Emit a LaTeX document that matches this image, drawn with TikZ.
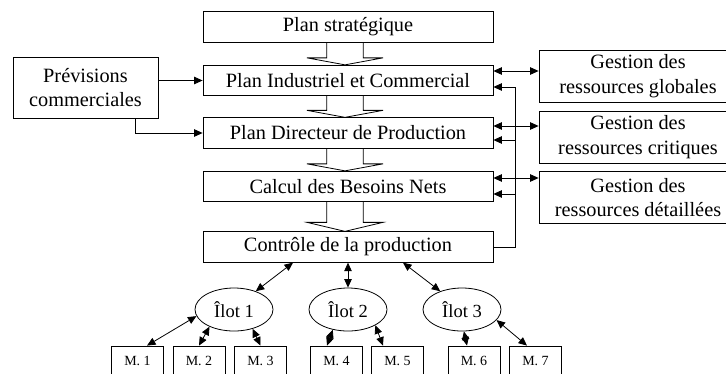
\documentclass[tikz,border=0pt]{standalone}
\usepackage{fontspec}
\setmainfont{Liberation Serif}
\usetikzlibrary{arrows.meta,calc,shapes.geometric}
\newcommand{\blockarrow}[3]{%
  \draw let \p1=(#1.south), \p2=(#2.north) in
    (\x1-21.3pt,\y1) -- (\x1-21.3pt,\y2+#3pt) -- (\x1-41pt,\y2+#3pt) -- (\x1-3pt,\y2)
    -- (\x1+35pt,\y2+#3pt) -- (\x1+15.3pt,\y2+#3pt) -- (\x1+15.3pt,\y1);}
\begin{document}
\begin{tikzpicture}[x=1pt,y=-1pt,line width=0.8pt,
  mainbox/.style={draw,minimum width=290pt,minimum height=30.5pt,inner sep=0pt,
    font=\fontsize{20.3}{24}\selectfont},
  sidebox/.style={draw,minimum width=198pt,minimum height=52pt,inner sep=0pt,align=center,
    font=\fontsize{20.3}{24.5}\selectfont},
  prevbox/.style={draw,minimum width=145pt,minimum height=61pt,inner sep=0pt,align=center,
    font=\fontsize{20.3}{24}\selectfont},
  ilot/.style={ellipse,draw,minimum width=78pt,minimum height=43pt,inner sep=0pt,
    font=\fontsize{18.5}{20}\selectfont},
  mach/.style={draw,minimum width=52pt,minimum height=30pt,inner sep=0pt,
    font=\fontsize{14}{15}\selectfont},
  sarr/.style={-{Triangle[length=8.5pt,width=7.5pt]}},
  dblarr/.style={{Triangle[length=8.5pt,width=7.5pt]}-{Triangle[length=8.5pt,width=7.5pt]}}
]
\useasboundingbox (0,0) rectangle (726,373);
\clip (0,0) rectangle (726,373);

% main column
\node[mainbox] (strat) at (348,27) {Plan stratégique};
\node[mainbox] (pic) at (348,80.5) {Plan Industriel et Commercial};
\node[mainbox] (pdp) at (348,133) {Plan Directeur de Production};
\node[mainbox] (cbn) at (348,186.5) {Calcul des Besoins Nets};
\node[mainbox] (cp) at (348,247) {Contrôle de la production};

% left
\node[prevbox] (prev) at (85.5,87.5) {Prévisions\\commerciales};

% right
\node[sidebox] (g1) at (638,76) {Gestion des\\ressources globales};
\node[sidebox] (g2) at (638,137) {Gestion des\\ressources critiques};
\node[sidebox] (g3) at (638,197.5) {Gestion des\\ressources détaillées};

% ilots
\node[ilot] (i1) at (234,309.5) {Îlot 1};
\node[ilot] (i2) at (348,309.5) {Îlot 2};
\node[ilot] (i3) at (462,309.5) {Îlot 3};

% machines
\node[mach] (m1) at (137.5,361) {M. 1};
\node[mach] (m2) at (199,361) {M. 2};
\node[mach] (m3) at (260.5,361) {M. 3};
\node[mach] (m4) at (336.5,361) {M. 4};
\node[mach] (m5) at (397.5,361) {M. 5};
\node[mach] (m6) at (474,361) {M. 6};
\node[mach] (m7) at (535.5,361) {M. 7};

% block arrows
\blockarrow{strat}{pic}{7}
\blockarrow{pic}{pdp}{7}
\blockarrow{pdp}{cbn}{7}
\blockarrow{cbn}{cp}{9}

% previsions arrows
\draw[sarr] (prev.east |- pic.west) -- (pic.west);
\draw[sarr] ($(prev.south)+(49.5,0)$) |- (pdp.west);

% gestion double arrows
\draw[dblarr] ($(pic.east)+(0,-9.5)$) coordinate (a1) -- (a1 -| g1.west);
\draw[dblarr] ($(pdp.east)+(0,-7)$) coordinate (a2) -- (a2 -| g2.west);
\draw[dblarr] ($(cbn.east)+(0,-8.5)$) coordinate (a3) -- (a3 -| g3.west);

% feedback
\draw[sarr] (cp.east) -| ($(pic.east)+(22,6.5)$) -- ($(pic.east)+(0,6.5)$);
\draw[sarr] ($(pdp.east)+(22,7)$) -- ($(pdp.east)+(0,7)$);
\draw[sarr] ($(cbn.east)+(22,7.5)$) -- ($(cbn.east)+(0,7.5)$);

% control to ilots
\draw[dblarr] ($(cp.south)+(-55,0)$) -- (i1.40);
\draw[dblarr] (cp.south) -- (i2.north);
\draw[dblarr] ($(cp.south)+(55,0)$) -- (i3.140);

% ilots to machines
\draw[dblarr] (i1.190) -- ($(m1.north)+(9.5,0)$);
\draw[dblarr] (i1.215) -- (m2.north);
\draw[dblarr] (i1.314) -- (m3.north);
\draw[dblarr] (i2.233) -- ($(m4.north)+(-9.5,0)$);
\draw[dblarr] (i2.330) -- ($(m5.north)+(-14.5,0)$);
\draw[dblarr] (i3.275) -- ($(m6.north)+(-7,0)$);
\draw[dblarr] (i3.343) -- ($(m7.north)+(-8.5,0)$);
\end{tikzpicture}
\end{document}
